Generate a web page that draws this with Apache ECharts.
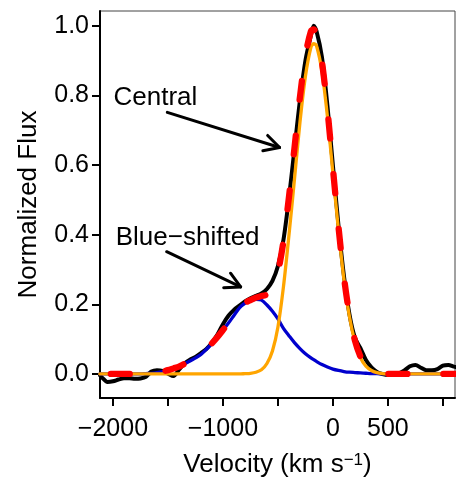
<!DOCTYPE html>
<html>
<head>
<meta charset="utf-8">
<script src="https://cdn.jsdelivr.net/npm/echarts@6/dist/echarts.min.js"></script>
<style>
html,body{margin:0;padding:0;background:#fff;}
#chart{width:456px;height:483px;}
</style>
</head>
<body>
<div id="chart"></div>
<script>
// ---- data ----
const velocity = [
  -2120, -2100, -2050, -2000, -1950, -1900, -1850, -1800, -1750, -1700,
  -1650, -1600, -1550, -1500, -1450, -1400, -1350, -1300, -1250, -1200,
  -1150, -1100, -1050, -1000, -950, -900, -850, -800, -750, -700,
  -650, -600, -550, -500, -450, -400, -350, -300, -250, -200,
  -175, -150, -100, -50, 0, 50, 100, 150, 200, 250,
  300, 350, 400, 450, 500, 550, 600, 650, 700, 750,
  800, 850, 900, 950, 1000, 1050, 1100, 1150
];
const observedFlux = [
  -0.003, -0.010, -0.023, -0.021, -0.016, -0.012, -0.012, -0.014, -0.013, -0.008,
  0.007, 0.011, 0.009, 0.001, -0.006, 0.012, 0.030, 0.041, 0.049, 0.060,
  0.072, 0.090, 0.113, 0.143, 0.167, 0.184, 0.196, 0.208, 0.217, 0.224,
  0.231, 0.244, 0.267, 0.310, 0.385, 0.505, 0.645, 0.785, 0.900, 0.972,
  1.000, 0.985, 0.910, 0.770, 0.598, 0.428, 0.282, 0.172, 0.104, 0.074,
  0.040, 0.019, 0.006, 0.000, -0.003, -0.002, 0.002, 0.010, 0.022, 0.026,
  0.018, 0.011, 0.011, 0.014, 0.024, 0.026, 0.021, 0.018
];
const blueComponent = [
  0, 0, 0, 0, 0, 0, 0, 0, 0, 0.001,
  0.002, 0.004, 0.007, 0.011, 0.016, 0.021, 0.029, 0.037, 0.046, 0.056,
  0.071, 0.088, 0.106, 0.126, 0.146, 0.168, 0.190, 0.203, 0.210, 0.214,
  0.212, 0.198, 0.180, 0.158, 0.131, 0.110, 0.090, 0.073, 0.058, 0.046,
  0.041, 0.036, 0.027, 0.020, 0.014, 0.010, 0.007, 0.005, 0.004, 0.003,
  0.002, 0.001, 0.001, 0, 0, 0, 0, 0, 0, 0,
  0, 0, 0, 0, 0, 0, 0, 0
];
const centralComponent = [
  0, 0, 0, 0, 0, 0, 0, 0, 0, 0,
  0, 0, 0, 0, 0, 0, 0, 0, 0, 0,
  0, 0, 0, 0, 0, 0, 0, 0.001, 0.002, 0.005,
  0.012, 0.030, 0.066, 0.135, 0.250, 0.398, 0.558, 0.722, 0.855, 0.938,
  0.948, 0.943, 0.869, 0.739, 0.576, 0.414, 0.272, 0.165, 0.092, 0.047,
  0.022, 0.010, 0.004, 0.001, 0, 0, 0, 0, 0, 0,
  0, 0, 0, 0, 0, 0, 0, 0
];
const totalFit = [
  0, 0, 0, 0, 0, 0, 0, 0, 0, 0.001,
  0.002, 0.004, 0.007, 0.011, 0.016, 0.021, 0.029, 0.037, 0.046, 0.056,
  0.071, 0.088, 0.106, 0.126, 0.146, 0.168, 0.190, 0.204, 0.212, 0.219,
  0.224, 0.228, 0.246, 0.293, 0.381, 0.508, 0.648, 0.795, 0.913, 0.984,
  0.989, 0.979, 0.896, 0.759, 0.590, 0.424, 0.279, 0.170, 0.096, 0.050,
  0.024, 0.011, 0.005, 0.001, 0, 0, 0, 0, 0, 0,
  0, 0, 0, 0, 0, 0, 0, 0
];
const xTickValues = [-2000, -1500, -1000, -500, 0, 500, 1000];
const xLabelValues = [-2000, -1000, 0, 500];
const yTickValues = [0, 0.2, 0.4, 0.6, 0.8, 1.0];
// annotation arrows: [fromVelocity, fromFlux, toVelocity, toFlux]
const arrowSegments = [
  [-1506, 0.751, -485, 0.650],
  [-1512, 0.351, -839, 0.250]
];
const annotationTexts = ['Central', 'Blue\u2212shifted'];
const annotationAnchors = [
  [-1995, 0.792, 0],
  [-1975, 0.391, 1]
];

// ---- chart ----
const FONT = "'Liberation Sans', Arial, Helvetica, sans-serif";
const pair = arr => velocity.map((v, i) => [v, arr[i]]);
const fmtMinus = v => (v < 0 ? '\u2212' + Math.abs(v) : String(v));

const chart = echarts.init(document.getElementById('chart'), null, {renderer: 'canvas'});
chart.setOption({
  animation: false,
  backgroundColor: '#fff',
  grid: {left: 100, right: 1, top: 11, bottom: 83, show: true, borderColor: '#444', borderWidth: 1, backgroundColor: 'transparent'},
  xAxis: {
    type: 'value', min: -2118, max: 1110,
    axisLine: {show: true, onZero: false, lineStyle: {color: '#000', width: 2}},
    axisTick: {show: true, customValues: xTickValues, length: 8, lineStyle: {color: '#000', width: 2}},
    axisLabel: {customValues: xLabelValues, formatter: fmtMinus, margin: 19, color: '#000', fontSize: 25, fontFamily: FONT},
    splitLine: {show: false},
    name: '{a|Velocity (km s}{b|\u22121}{a|)}',
    nameLocation: 'middle', nameGap: 54,
    nameTextStyle: {
      color: '#000', fontFamily: FONT, fontSize: 26,
      rich: {
        a: {fontSize: 26, fontFamily: FONT, color: '#000'},
        b: {fontSize: 17, fontFamily: FONT, color: '#000', verticalAlign: 'top'}
      }
    }
  },
  yAxis: {
    type: 'value', min: -0.069, max: 1.042,
    axisLine: {show: true, onZero: false, lineStyle: {color: '#000', width: 2}},
    axisTick: {show: true, customValues: yTickValues, length: 8, lineStyle: {color: '#000', width: 2}},
    axisLabel: {customValues: yTickValues, formatter: v => v.toFixed(1), margin: 11, color: '#000', fontSize: 25, fontFamily: FONT},
    splitLine: {show: false},
    name: 'Normalized Flux', nameLocation: 'middle', nameGap: 58,
    nameTextStyle: {color: '#000', fontFamily: FONT, fontSize: 26}
  },
  series: [
    {type: 'line', data: pair(observedFlux), symbol: 'none', smooth: 0.3, z: 2,
     lineStyle: {color: '#000', width: 4, cap: 'round', join: 'round'}},
    {type: 'line', data: pair(blueComponent), symbol: 'none', smooth: 0.3, z: 3,
     lineStyle: {color: '#0000CD', width: 3.3, cap: 'round', join: 'round'}},
    {type: 'line', data: pair(centralComponent), symbol: 'none', smooth: 0.3, z: 4,
     lineStyle: {color: '#FFA500', width: 3.3, cap: 'round', join: 'round'}},
    {type: 'line', data: pair(totalFit), symbol: 'none', smooth: 0.3, z: 5,
     lineStyle: {color: '#FF0000', width: 6.3, type: [19, 36], dashOffset: 44, cap: 'round', join: 'round'}},
    {type: 'custom', data: arrowSegments, z: 6, clip: false,
     encode: {x: [0, 2], y: [1, 3]},
     renderItem: function (params, api) {
       const p0 = api.coord([api.value(0), api.value(1)]);
       const p1 = api.coord([api.value(2), api.value(3)]);
       const ang = Math.atan2(p1[1] - p0[1], p1[0] - p0[0]);
       const L = 17, A = 28 * Math.PI / 180;
       const w1 = [p1[0] - L * Math.cos(ang - A), p1[1] - L * Math.sin(ang - A)];
       const w2 = [p1[0] - L * Math.cos(ang + A), p1[1] - L * Math.sin(ang + A)];
       const st = {stroke: '#000', lineWidth: 3, fill: null, lineCap: 'round', lineJoin: 'round'};
       return {type: 'group', children: [
         {type: 'polyline', shape: {points: [p0, p1]}, style: st},
         {type: 'polyline', shape: {points: [w1, p1, w2]}, style: st}
       ]};
     }},
    {type: 'custom', data: annotationAnchors, z: 7, clip: false,
     encode: {x: 0, y: 1},
     renderItem: function (params, api) {
       const p = api.coord([api.value(0), api.value(1)]);
       return {type: 'text', x: p[0], y: p[1], style: {
         text: annotationTexts[api.value(2)], fill: '#000',
         font: '26px ' + FONT, fontSize: 26, fontFamily: FONT,
         align: 'left', verticalAlign: 'middle', textAlign: 'left', textVerticalAlign: 'middle'
       }};
     }}
  ]
});
</script>
</body>
</html>
